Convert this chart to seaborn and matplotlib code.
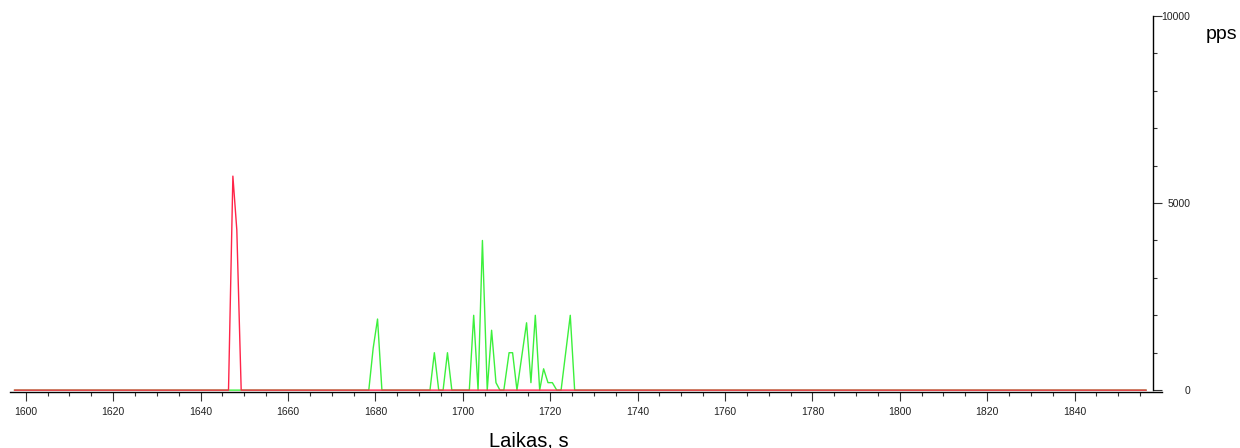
"""Packet rate vs time, two channels (red / green)."""

import matplotlib

matplotlib.use("Agg")
import matplotlib.pyplot as plt
import numpy as np
import pandas as pd
import seaborn as sns
from matplotlib.ticker import FixedLocator, MultipleLocator

# vertices (time in s, rate in pps)
red_t = [1597.4, 1646.4, 1647.4, 1648.3, 1649.3, 1856.4]
red_v = [0, 0, 5720, 4280, 0, 0]

green_t = [
    1597.4, 1646.4, 1678.5, 1679.5, 1680.5, 1681.5, 1692.5, 1693.5, 1694.5,
    1695.5, 1696.5, 1697.5, 1701.5, 1702.5, 1703.5, 1704.5, 1705.6, 1706.6,
    1707.6, 1708.5, 1709.4, 1710.6, 1711.4, 1712.4, 1714.6, 1715.6, 1716.6,
    1717.6, 1718.5, 1719.5, 1720.5, 1721.5, 1722.5, 1724.6, 1725.6, 1856.4,
]
green_v = [
    0, 0, 0, 1120, 1900, 0, 0, 1000, 0,
    0, 1000, 0, 0, 2000, 0, 4000, 0, 1600,
    200, 0, 0, 1000, 1000, 0, 1800, 200, 2000,
    0, 570, 200, 200, 0, 0, 2000, 0, 0,
]

series_order = ["green", "red"]
palette = {"green": "#3cf03c", "red": "#ff2448"}

x_lim = (1596.4, 1860.0)
y_lim = (-50, 10000)
y_axis_at = 1857.9
x_major = np.arange(1600, 1841, 20)
x_minor = np.arange(1600, 1856, 5)

df = pd.concat(
    [
        pd.DataFrame({"time": green_t, "pps": green_v, "series": "green"}),
        pd.DataFrame({"time": red_t, "pps": red_v, "series": "red"}),
    ],
    ignore_index=True,
)

sns.set_theme(style="white")
plt.rcParams["font.family"] = ["Liberation Sans", "DejaVu Sans"]

W, H = 1240, 448
fig = plt.figure(figsize=(W / 100, H / 100), dpi=100)
ax = fig.add_axes([10 / W, (H - 392) / H, (1162 - 10) / W, (392 - 16) / H])

sns.lineplot(
    data=df,
    x="time",
    y="pps",
    hue="series",
    hue_order=series_order,
    palette=palette,
    estimator=None,
    sort=False,
    linewidth=1.0,
    legend=False,
    ax=ax,
)

ax.set_xlim(*x_lim)
ax.set_ylim(*y_lim)
ax.set_xlabel("")
ax.set_ylabel("")

for side in ("left", "top"):
    ax.spines[side].set_visible(False)
ax.spines["bottom"].set_color("black")
ax.spines["bottom"].set_linewidth(1.0)
ax.spines["right"].set_color("black")
ax.spines["right"].set_linewidth(1.0)
ax.spines["right"].set_position(("data", y_axis_at))
ax.spines["right"].set_bounds(0, 10000)

ax.xaxis.set_major_locator(FixedLocator(x_major))
ax.xaxis.set_minor_locator(FixedLocator(x_minor))
ax.set_yticks([0, 5000, 10000])
ax.yaxis.set_minor_locator(MultipleLocator(1000))
ax.yaxis.tick_right()

ax.tick_params(axis="x", which="major", direction="out", length=6.5, width=0.8,
               color="#333333", labelsize=7.5, labelcolor="#222222", pad=4, bottom=True)
ax.tick_params(axis="x", which="minor", direction="out", length=3, width=0.8,
               color="#333333", bottom=True)
ax.tick_params(axis="y", which="major", direction="out", length=6.5, width=0.8,
               color="#333333", labelsize=7.5, labelcolor="#222222", pad=20.5,
               right=True, left=False)
ax.tick_params(axis="y", which="minor", direction="out", length=3, width=0.8,
               color="#333333", right=True, left=False)
for lab in ax.get_yticklabels():
    lab.set_horizontalalignment("right")

ax.grid(False)

fig.text(529 / W, (H - 446) / H, "Laikas, s", fontsize=14.5, ha="center",
         va="baseline", color="black")
fig.text(1206 / W, (H - 39) / H, "pps", fontsize=14, ha="left",
         va="baseline", color="black")

fig.savefig("out.png", dpi=100)
